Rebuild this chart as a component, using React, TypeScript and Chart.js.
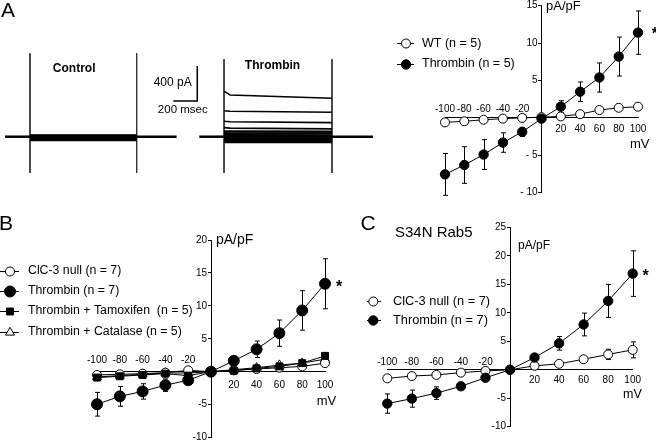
import React, { useEffect, useRef } from 'react';
import { Chart, registerables } from 'chart.js';
Chart.register(...registerables);

const FONT = "'Liberation Sans', Arial, Helvetica, sans-serif";

// ---------- shared ----------
const voltages = [-100, -80, -60, -40, -20, 0, 20, 40, 60, 80, 100];
const xTickValues = [-100, -80, -60, -40, -20, 20, 40, 60, 80, 100];

// ---------- Panel A : I-V ----------
const aYTicks = [15, 10, 5, -5, -10];
const aYTickLabels = ['15', '10', '5', '- 5', '- 10'];
const aWT = [-0.6, -0.45, -0.25, -0.1, 0, 0.1, 0.2, 0.5, 1.05, 1.35, 1.5];
const aWTErr = [0.2, 0.2, 0.2, 0.2, 0.2, 0.2, 0.2, 0.2, 0.2, 0.2, 0.2];
const aThrombin = [-7.55, -6.3, -4.9, -3.3, -1.87, -0.1, 1.5, 3.5, 5.4, 8.2, 11.4];
const aThrombinErr = [2.8, 2.45, 2.0, 1.3, 0.6, 0.2, 0.8, 1.3, 1.95, 2.6, 2.9];

// ---------- Panel B ----------
const bYTicks = [20, 15, 10, 5, -5, -10];
const bYTickLabels = ['20', '15', '10', '5', '-5', '-10'];
const bNull = [-0.5, -0.4, -0.3, -0.15, 0.2, 0, 0.2, 0.4, 0.6, 0.8, 1.3];
const bNullErr = [0.2, 0.2, 0.2, 0.2, 0.2, 0.2, 0.2, 0.2, 0.2, 0.2, 0.2];
const bThrombin = [-4.95, -3.75, -3.0, -2.05, -1.3, 0, 1.65, 3.4, 5.85, 9.3, 13.35];
const bThrombinErr = [1.8, 1.5, 1.17, 0.95, 0.4, 0.2, 0.3, 1.25, 2.0, 3.0, 3.8];
const bTamoxifen = [-0.9, -0.7, -0.5, -0.3, -0.6, 0, 0.15, 0.5, 0.8, 1.3, 2.4];
const bTamoxifenErr = [0.2, 0.2, 0.2, 0.2, 0.2, 0.2, 0.2, 0.2, 0.2, 0.2, 0.2];
const bCatalase = [-0.8, -0.6, -0.4, -0.2, -0.2, 0, 0.3, 0.6, 1.0, 1.3, 1.9];
const bCatalaseErr = [0.2, 0.2, 0.2, 0.2, 0.2, 0.2, 0.2, 0.2, 0.2, 0.2, 0.2];

// ---------- Panel C ----------
const cYTicks = [25, 20, 15, 10, 5, -5, -10];
const cYTickLabels = ['25', '20', '15', '10', '5', '-5', '-10'];
const cNull = [-1.5, -1.1, -0.9, -0.5, -0.2, 0, 0.7, 1.05, 1.85, 2.7, 3.5];
const cNullErr = [0.2, 0.2, 0.2, 0.2, 0.2, 0.2, 0.2, 0.2, 0.3, 0.9, 1.4];
const cThrombin = [-5.94, -5.07, -4.1, -2.9, -1.4, 0, 2.15, 4.65, 7.96, 12.1, 16.9];
const cThrombinErr = [1.7, 1.5, 1.1, 0.4, 0.3, 0.2, 0.3, 1.2, 2.0, 2.9, 4.0];

// ---------- Panel A : current traces (ms, pA) ----------
const controlTimes = [42, 250, 1139, 1472]; // baseline start, step on, step off, baseline end
const thrombinTimes = [1661, 1867, 2767, 3108];
const thrombinEarlyTime = 1917;
const controlLevels = [18, 12, 6, 0, -6, -12, -18, -24, -30, -36, -41];
const thrombinOnset = [520, 296, 176, 104, 62, 40, 18, -5, -25, -45, -62];
const thrombinEarly = [477, 290, 170, 98, 61, 39, 17, -5, -25, -45, -62];
const thrombinEnd = [440, 279, 161, 90, 58, 37, 16, -5, -25, -45, -62];
const controlSpike = [953, -415];
const thrombinSpike = [885, -415];
const scaleBarTime = [1444, 1644];
const scaleBarAmp = [408, 808];

type Marker = 'circle' | 'rect' | 'triangle';
interface SeriesDef {
  label: string;
  values: number[];
  err: number[];
  marker: Marker;
  filled: boolean;
  radius: number;
  order: number;
}
interface TextDef {
  t: string;
  x: number;
  y: number;
  font: string;
  align?: CanvasTextAlign;
  base?: CanvasTextBaseline;
}
interface IVCfg {
  series: SeriesDef[];
  padding: { left: number; right: number; top: number; bottom: number };
  yMin: number;
  yMax: number;
  yTicks: number[];
  yLabels: string[];
  tickFont: number;
  yGap: number;
  xNegDy: number;
  xPosDy: number;
  legend: { x1: number; x2: number; xm: number; tx: number; ys: number[]; font: number };
  texts: TextDef[];
}

function drawMarker(ctx: CanvasRenderingContext2D, m: Marker, filled: boolean, r: number, x: number, y: number) {
  ctx.save();
  ctx.beginPath();
  if (m === 'circle') ctx.arc(x, y, r, 0, Math.PI * 2);
  else if (m === 'rect') {
    const s = r * Math.SQRT1_2;
    ctx.rect(x - s, y - s, 2 * s, 2 * s);
  } else {
    ctx.moveTo(x, y - r);
    ctx.lineTo(x + r * 0.866, y + r * 0.5);
    ctx.lineTo(x - r * 0.866, y + r * 0.5);
    ctx.closePath();
  }
  ctx.fillStyle = filled ? '#000' : '#fff';
  ctx.fill();
  ctx.lineWidth = 1;
  ctx.strokeStyle = '#000';
  ctx.stroke();
  ctx.restore();
}

function drawTexts(ctx: CanvasRenderingContext2D, texts: TextDef[]) {
  texts.forEach((d) => {
    ctx.font = d.font;
    ctx.textAlign = d.align || 'left';
    ctx.textBaseline = d.base || 'middle';
    ctx.fillStyle = '#000';
    ctx.fillText(d.t, d.x, d.y);
  });
}

function buildIV(canvas: HTMLCanvasElement, cfg: IVCfg) {
  const datasets = cfg.series.map((s) => ({
    label: s.label,
    data: voltages.map((v, i) => ({ x: v, y: s.values[i] })),
    showLine: true,
    borderColor: '#000',
    borderWidth: 1,
    pointStyle: s.marker,
    pointRadius: s.radius,
    pointHoverRadius: s.radius,
    pointBackgroundColor: s.filled ? '#000' : '#fff',
    pointBorderColor: '#000',
    pointBorderWidth: 1,
    tension: 0,
    clip: false as any,
    order: s.order,
  }));
  const decor = {
    id: 'ivDecor',
    beforeDatasetsDraw(chart: any) {
      const { ctx, scales } = chart;
      const xs = scales.x;
      const ys = scales.y;
      ctx.save();
      ctx.strokeStyle = '#000';
      ctx.lineWidth = 1;
      cfg.series.forEach((s) => {
        voltages.forEach((v, i) => {
          const e = s.err[i];
          if (!e) return;
          const px = Math.round(xs.getPixelForValue(v)) + 0.5;
          const y1 = ys.getPixelForValue(s.values[i] + e);
          const y2 = ys.getPixelForValue(s.values[i] - e);
          ctx.beginPath();
          ctx.moveTo(px, y1);
          ctx.lineTo(px, y2);
          ctx.moveTo(px - 2.5, y1);
          ctx.lineTo(px + 2.5, y1);
          ctx.moveTo(px - 2.5, y2);
          ctx.lineTo(px + 2.5, y2);
          ctx.stroke();
        });
      });
      ctx.restore();
    },
    afterDraw(chart: any) {
      const { ctx, scales } = chart;
      const xs = scales.x;
      const ys = scales.y;
      ctx.save();
      ctx.fillStyle = '#000';
      ctx.font = `${cfg.tickFont}px ${FONT}`;
      ctx.textBaseline = 'middle';
      ctx.textAlign = 'center';
      const axisY = ys.getPixelForValue(0);
      xTickValues.forEach((v) => {
        const px = xs.getPixelForValue(v);
        ctx.fillText(String(v), px, axisY + (v < 0 ? cfg.xNegDy : cfg.xPosDy));
      });
      const axisX = xs.getPixelForValue(0);
      ctx.textAlign = 'right';
      cfg.yTicks.forEach((v, i) => {
        ctx.fillText(cfg.yLabels[i], axisX - cfg.yGap, ys.getPixelForValue(v));
      });
      // legend
      const L = cfg.legend;
      cfg.series.forEach((s, i) => {
        const y = L.ys[i];
        ctx.beginPath();
        ctx.strokeStyle = '#000';
        ctx.lineWidth = 1;
        ctx.moveTo(L.x1, Math.round(y) + 0.5);
        ctx.lineTo(L.x2, Math.round(y) + 0.5);
        ctx.stroke();
        drawMarker(ctx, s.marker, s.filled, s.radius, L.xm, Math.round(y) + 0.5);
        ctx.font = `${L.font}px ${FONT}`;
        ctx.textAlign = 'left';
        ctx.textBaseline = 'middle';
        ctx.fillStyle = '#000';
        ctx.fillText(s.label, L.tx, y);
      });
      drawTexts(ctx, cfg.texts);
      ctx.restore();
    },
  };
  return new Chart(canvas, {
    type: 'scatter',
    data: { datasets: datasets as any },
    options: {
      animation: false,
      responsive: false,
      events: [],
      layout: { padding: cfg.padding },
      plugins: { legend: { display: false }, tooltip: { enabled: false } },
      scales: {
        x: {
          type: 'linear',
          min: -100,
          max: 100,
          position: { y: 0 } as any,
          ticks: { display: false, stepSize: 20 },
          grid: { display: true, drawOnChartArea: false, drawTicks: false, color: '#000' },
          border: { display: true, color: '#000', width: 1 },
        },
        y: {
          type: 'linear',
          min: cfg.yMin,
          max: cfg.yMax,
          position: { x: 0 } as any,
          ticks: { display: false, stepSize: 5 },
          grid: { display: true, drawOnChartArea: false, drawTicks: true, tickLength: 3, color: '#000' },
          border: { display: true, color: '#000', width: 1 },
        },
      },
    },
    plugins: [decor],
  });
}

function buildTraces(canvas: HTMLCanvasElement) {
  const ds: any[] = [];
  const line = (pts: { x: number; y: number }[], w: number, color = '#000') => ({
    data: pts,
    showLine: true,
    borderColor: color,
    borderWidth: w,
    pointRadius: 0,
    tension: 0,
    clip: false,
  });
  const [c0, cOn, cOff, cEnd] = controlTimes;
  const [t0, tOn, tOff, tEnd] = thrombinTimes;
  // control
  controlLevels.forEach((l) => ds.push(line([{ x: cOn, y: l }, { x: cOff, y: l }], 2)));
  ds.push(line([{ x: c0, y: 0 }, { x: cOn, y: 0 }], 2.5));
  ds.push(line([{ x: cOff, y: 0 }, { x: cEnd, y: 0 }], 2.5));
  ds.push(line([{ x: cOn, y: controlSpike[0] }, { x: cOn, y: controlSpike[1] }], 1, '#333'));
  ds.push(line([{ x: cOff, y: controlSpike[0] }, { x: cOff, y: controlSpike[1] }], 1, '#333'));
  // thrombin
  thrombinOnset.forEach((l, i) =>
    ds.push(
      line(
        [
          { x: tOn, y: l },
          { x: thrombinEarlyTime, y: thrombinEarly[i] },
          { x: tOff, y: thrombinEnd[i] },
        ],
        i < 4 ? 1.6 : 2.2
      )
    )
  );
  ds.push(line([{ x: t0, y: 0 }, { x: tOn, y: 0 }], 2.5));
  ds.push(line([{ x: tOff, y: 0 }, { x: tEnd, y: 0 }], 2.5));
  ds.push(line([{ x: tOn, y: thrombinSpike[0] }, { x: tOn, y: thrombinSpike[1] }], 1, '#333'));
  ds.push(line([{ x: tOff, y: thrombinSpike[0] }, { x: tOff, y: thrombinSpike[1] }], 1, '#333'));
  // scale bar
  ds.push(
    line(
      [
        { x: scaleBarTime[0], y: scaleBarAmp[0] },
        { x: scaleBarTime[1], y: scaleBarAmp[0] },
        { x: scaleBarTime[1], y: scaleBarAmp[1] },
      ],
      1.5
    )
  );
  const texts: TextDef[] = [
    { t: 'A', x: 1, y: 17, font: `21px ${FONT}`, base: 'alphabetic' },
    { t: 'Control', x: 74.2, y: 68.3, font: `bold 12px ${FONT}`, align: 'center' },
    { t: 'Thrombin', x: 272.5, y: 66, font: `bold 12px ${FONT}`, align: 'center' },
    { t: '400 pA', x: 191.7, y: 82.3, font: `12px ${FONT}`, align: 'right' },
    { t: '200 msec', x: 182.8, y: 110, font: `11.5px ${FONT}`, align: 'center' },
  ];
  return new Chart(canvas, {
    type: 'scatter',
    data: { datasets: ds },
    options: {
      animation: false,
      responsive: false,
      events: [],
      layout: { padding: 0 },
      plugins: { legend: { display: false }, tooltip: { enabled: false } },
      scales: {
        x: { type: 'linear', min: 0, max: 3167, display: false },
        y: { type: 'linear', min: -609, max: 1562, display: false },
      },
    },
    plugins: [
      {
        id: 'traceText',
        afterDraw(chart: any) {
          chart.ctx.save();
          drawTexts(chart.ctx, texts);
          chart.ctx.restore();
        },
      },
    ],
  });
}

const cfgA: IVCfg = {
  series: [
    { label: 'WT (n = 5)', values: aWT, err: aWTErr, marker: 'circle', filled: false, radius: 4.5, order: 1 },
    { label: 'Thrombin (n = 5)', values: aThrombin, err: aThrombinErr, marker: 'circle', filled: true, radius: 4.7, order: 0 },
  ],
  padding: { left: 65, right: 18, top: 5.7, bottom: 17.3 },
  yMin: -10,
  yMax: 15,
  yTicks: aYTicks,
  yLabels: aYTickLabels,
  tickFont: 10,
  yGap: 4,
  xNegDy: -8.4,
  xPosDy: 11.6,
  legend: { x1: 17, x2: 34, xm: 26, tx: 42, ys: [43.3, 64], font: 12.5 },
  texts: [
    { t: 'pA/pF', x: 166, y: 6, font: `13px ${FONT}` },
    { t: 'mV', x: 250, y: 144, font: `13px ${FONT}` },
    { t: '*', x: 271.7, y: 39, font: `bold 16px ${FONT}`, base: 'alphabetic' },
  ],
};

const cfgB: IVCfg = {
  series: [
    { label: 'ClC-3 null (n = 7)', values: bNull, err: bNullErr, marker: 'circle', filled: false, radius: 4.5, order: 2 },
    { label: 'Thrombin (n = 7)', values: bThrombin, err: bThrombinErr, marker: 'circle', filled: true, radius: 5.5, order: 0 },
    { label: 'Thrombin + Tamoxifen  (n = 5)', values: bTamoxifen, err: bTamoxifenErr, marker: 'rect', filled: true, radius: 4.9, order: 1 },
    { label: 'Thrombin + Catalase (n = 5)', values: bCatalase, err: bCatalaseErr, marker: 'triangle', filled: false, radius: 5.2, order: 3 },
  ],
  padding: { left: 97, right: 45, top: 50, bottom: 5 },
  yMin: -10,
  yMax: 20,
  yTicks: bYTicks,
  yLabels: bYTickLabels,
  tickFont: 10,
  yGap: 4,
  xNegDy: -11.7,
  xPosDy: 13.3,
  legend: { x1: 0, x2: 19, xm: 10, tx: 28, ys: [80.7, 101, 121, 141.5], font: 12.3 },
  texts: [
    { t: 'B', x: -1, y: 40, font: `21px ${FONT}`, base: 'alphabetic' },
    { t: 'pA/pF', x: 216, y: 50, font: `14px ${FONT}` },
    { t: 'mV', x: 316.7, y: 211.7, font: `13px ${FONT}` },
    { t: '*', x: 336, y: 102, font: `bold 16px ${FONT}`, base: 'alphabetic' },
  ],
};

const cfgC: IVCfg = {
  series: [
    { label: 'ClC-3 null (n = 7)', values: cNull, err: cNullErr, marker: 'circle', filled: false, radius: 4.5, order: 1 },
    { label: 'Thrombin (n = 7)', values: cThrombin, err: cThrombinErr, marker: 'circle', filled: true, radius: 4.7, order: 0 },
  ],
  padding: { left: 47.3, right: 23.3, top: 17.5, bottom: 17.3 },
  yMin: -10,
  yMax: 25,
  yTicks: cYTicks,
  yLabels: cYTickLabels,
  tickFont: 10,
  yGap: 4,
  xNegDy: -7.6,
  xPosDy: 10.7,
  legend: { x1: 27, x2: 41, xm: 33.3, tx: 53, ys: [91, 110], font: 12.8 },
  texts: [
    { t: 'C', x: 20.5, y: 19.5, font: `21px ${FONT}`, base: 'alphabetic' },
    { t: 'S34N Rab5', x: 55, y: 23, font: `15px ${FONT}` },
    { t: 'pA/pF', x: 178, y: 36, font: `12px ${FONT}` },
    { t: 'mV', x: 283, y: 185, font: `12.5px ${FONT}` },
    { t: '*', x: 302.5, y: 71, font: `bold 16px ${FONT}`, base: 'alphabetic' },
  ],
};

export default function App() {
  const rTrace = useRef<HTMLCanvasElement>(null);
  const rA = useRef<HTMLCanvasElement>(null);
  const rB = useRef<HTMLCanvasElement>(null);
  const rC = useRef<HTMLCanvasElement>(null);
  useEffect(() => {
    document.body.style.margin = '0';
    const charts = [
      buildTraces(rTrace.current!),
      buildIV(rA.current!, cfgA),
      buildIV(rB.current!, cfgB),
      buildIV(rC.current!, cfgC),
    ];
    return () => charts.forEach((c) => c.destroy());
  }, []);
  const abs = (left: number, top: number, w: number, h: number): React.CSSProperties => ({
    position: 'absolute',
    left,
    top,
    width: w,
    height: h,
  });
  return (
    <div style={{ position: 'relative', width: 656, height: 444, background: '#fff', overflow: 'hidden' }}>
      <canvas ref={rTrace} width={380} height={190} style={abs(0, 0, 380, 190)} />
      <canvas ref={rA} width={276} height={210} style={abs(380, 0, 276, 210)} />
      <canvas ref={rB} width={370} height={254} style={abs(0, 190, 370, 254)} />
      <canvas ref={rC} width={316} height={234} style={abs(340, 210, 316, 234)} />
    </div>
  );
}
